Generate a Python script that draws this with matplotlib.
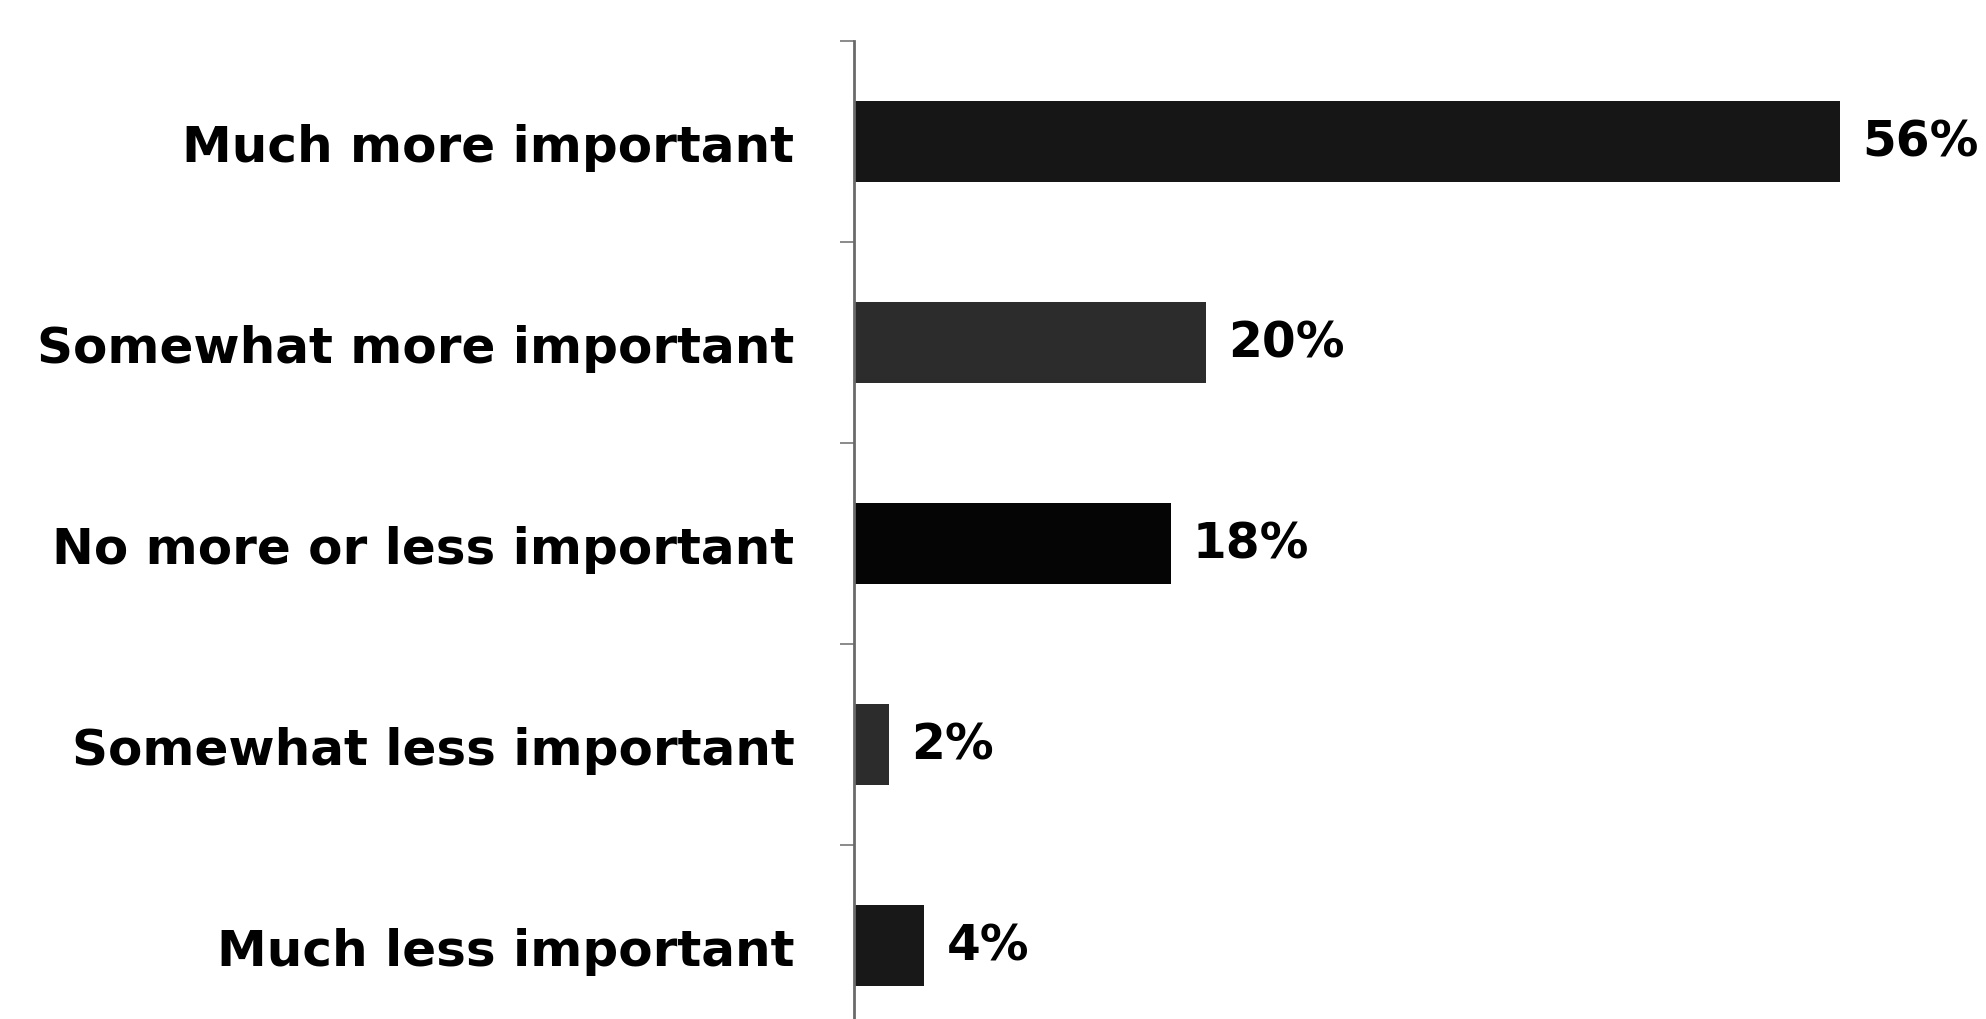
import matplotlib.pyplot as plt
import numpy as np

categories = ['Much more important', 'Somewhat more important', 'No more or less important',
              'Somewhat less important', 'Much less important']
values = [56, 20, 18, 2, 4]
bar_colors = ['#161616', '#2c2c2c', '#050505', '#2c2c2c', '#181818']

plt.rcParams['font.family'] = ['DejaVu Sans']

fig = plt.figure(figsize=(19.86, 10.2), dpi=100)
ax = fig.add_axes([854 / 1986, 0.0, 1 - 854 / 1986, 1 - 42 / 1020])

y = np.arange(len(categories))
ax.barh(y, values, height=0.4, color=bar_colors, edgecolor='none')

for yi, v in zip(y, values):
    ax.text(v + 1.25, yi, f'{v}%', va='center', ha='left', fontsize=35,
            fontweight='bold', color='black')

ax.set_xlim(0, 64.3)
ax.set_ylim(4.365, -0.5)

ax.set_yticks(y)
ax.set_yticklabels(categories, fontsize=36, fontweight='bold')
ax.tick_params(axis='y', which='major', length=0, pad=43)
ax.set_yticks(np.arange(-0.5, 4.0, 1.0), minor=True)
ax.tick_params(axis='y', which='minor', length=10, width=1.2, color='#777777', direction='out')
ax.set_xticks([])

for side in ['top', 'right', 'bottom']:
    ax.spines[side].set_visible(False)
ax.spines['left'].set_color('#6a6a6a')
ax.spines['left'].set_linewidth(2)

fig.savefig('out.png', dpi=100)
